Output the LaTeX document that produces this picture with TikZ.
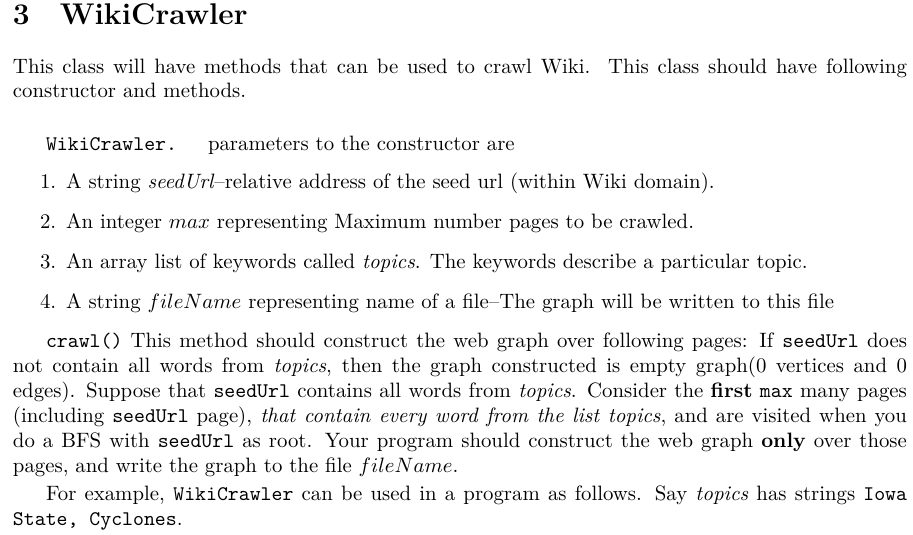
\documentclass[tikz,border=0pt]{standalone}
\begin{document}
\begin{tikzpicture}[x=0.4808pt,y=-0.4808pt,
  ln/.style={anchor=base west,inner sep=0pt,outer sep=0pt,font=\normalsize}]
\useasboundingbox (0,0) rectangle (913,534);
\newcommand{\fl}[1]{\makebox[429.8pt][s]{#1}}
\newcommand{\il}[1]{\makebox[414.0pt][s]{#1}}
\node[ln,font=\Large\bfseries] (h) at (13,25) {3\hspace{1em}WikiCrawler};
\node[ln] (p1) at (13,73) {\fl{This class will have methods that can be used to crawl Wiki.\ \ This class should have following}};
\node[ln] (p2) at (13,97) {constructor and methods.};
\node[ln] (w) at (46,150) {\texttt{WikiCrawler.}};
\node[ln] (w2) at (208,150) {parameters to the constructor are};
\node[ln] (n1) at (40,188) {1.};
\node[ln] (i1) at (66,188) {A string \emph{seedUrl}--relative address of the seed url (within Wiki domain).};
\node[ln] (n2) at (40,228) {2.};
\node[ln] (i2) at (66,228) {An integer $max$ representing Maximum number pages to be crawled.};
\node[ln] (n3) at (40,268) {3.};
\node[ln] (i3) at (66,268) {An array list of keywords called \emph{topics}. The keywords describe a particular topic.};
\node[ln] (n4) at (40,308) {4.};
\node[ln] (i4) at (66,308) {A string $fileName$ representing name of a file--The graph will be written to this file};
\node[ln] (c1) at (46,347) {\il{\texttt{crawl()} This method should construct the web graph over following pages: If \texttt{seedUrl} does}};
\node[ln] (c2) at (13,372) {\fl{not contain all words from \emph{topics}, then the graph constructed is empty graph(0 vertices and 0}};
\node[ln] (c3) at (13,397) {\fl{edges). Suppose that \texttt{seedUrl} contains all words from \emph{topics}. Consider the \textbf{first} \texttt{max} many pages}};
\node[ln] (c4) at (13,422) {\fl{(including \texttt{seedUrl} page), \emph{that contain every word from the list topics}, and are visited when you}};
\node[ln] (c5) at (13,447) {\fl{do a BFS with \texttt{seedUrl} as root. Your program should construct the web graph \textbf{only} over those}};
\node[ln] (c6) at (13,472) {pages, and write the graph to the file $fileName$.};
\node[ln] (e1) at (46,500) {\il{For example, \texttt{WikiCrawler} can be used in a program as follows. Say \emph{topics} has strings \texttt{Iowa}}};
\node[ln] (e2) at (13,525) {\texttt{State, Cyclones}.};
\end{tikzpicture}
\end{document}
